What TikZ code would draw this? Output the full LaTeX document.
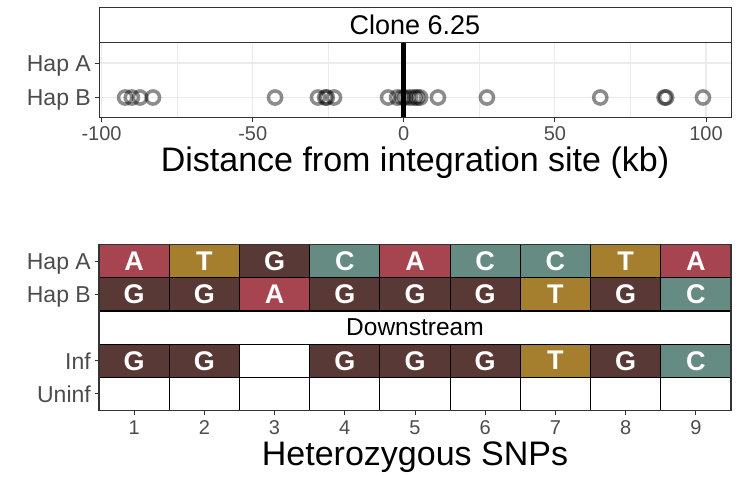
\documentclass[tikz,border=0pt]{standalone}
\usepackage{fontspec}
\setmainfont{Liberation Sans}
\usetikzlibrary{positioning}
\definecolor{snpA}{HTML}{A64450}
\definecolor{snpT}{HTML}{A67F2E}
\definecolor{snpG}{HTML}{593936}
\definecolor{snpC}{HTML}{668B82}
\definecolor{snpX}{HTML}{FFFFFF}
\definecolor{gridgray}{gray}{0.92}
\definecolor{ticktext}{gray}{0.3}
\definecolor{framegray}{gray}{0.2}

\begin{document}
\begin{tikzpicture}[x=1pt,y=-1pt,
	cell/.style={draw=black,line width=1.2pt,minimum width=70.22pt,minimum height=33.2pt,inner sep=0pt,text=white,font=\fontsize{27}{27}\selectfont\bfseries},
	ticklabel/.style={inner sep=0pt,text=ticktext,font=\fontsize{20}{20}\selectfont},
	ylabel/.style={inner sep=0pt,anchor=base east,text=ticktext,font=\fontsize{23}{23}\selectfont},
	axistitle/.style={inner sep=0pt,anchor=base,font=\fontsize{34}{34}\selectfont},
	striptext/.style={inner sep=0pt,font=\fontsize{27}{27}\selectfont},
	tickmark/.style={draw=framegray,line width=1pt},
	snp/.style={draw=black,draw opacity=0.45,line width=3.5pt}]
	\useasboundingbox (0,0) rectangle (741,477);

	% top panel: strip and grid
	\draw[framegray,line width=1pt,fill=white] (99,7.3) rectangle (731,42.7);
	\node[striptext] (strip) at (415,25) {Clone 6.25};
	\foreach \k in {-75,-25,25,75}
		\draw[gridgray,line width=0.6pt] ({403.8+3.022*\k},42.7) -- ({403.8+3.022*\k},117.3);
	\foreach \k in {-100,-50,0,50,100}
		\draw[gridgray,line width=1.1pt] ({403.8+3.022*\k},42.7) -- ({403.8+3.022*\k},117.3);
	\foreach \y in {63,97.5}
		\draw[gridgray,line width=1.1pt] (99,\y) -- (731,\y);

	% SNP positions on Hap B
	\foreach \k in {-92.2,-90,-87.3,-83,-42.6,-28.4,-26,-25.5,-23.1,-5.2,-2.2,-0.5,0.5,2.1,3.5,4.4,5.4,11.3,27.5,65,86.3,86.8,99}
		\draw[snp] ({403.8+3.022*\k},97.5) circle (6.6);
	\draw[black,line width=5pt] (403.8,42.7) -- (403.8,117.3);
	\draw[framegray,line width=1pt] (99,42.7) rectangle (731,117.3);

	% top axes
	\foreach \lab/\y in {Hap A/63,Hap B/97.5} {
		\draw[tickmark] (94.5,\y) -- (99,\y);
		\node[ylabel] at (91,\y+8.3) {\lab};
	}
	\foreach \k in {-100,-50,0,50,100} {
		\draw[tickmark] ({403.8+3.022*\k},117.3) -- ({403.8+3.022*\k},121.8);
		\node[ticklabel,anchor=base] at ({403.8+3.022*\k},140) {\k};
	}
	\node[axistitle] (distance) at (415,171) {Distance from integration site (kb)};

	% bottom panel: haplotypes
	\foreach \b [count=\i] in {A,T,G,C,A,C,C,T,A}
		\node[cell,fill=snp\b] (hapA-\i) at ({99+70.222*(\i-0.5)},261.1) {\b};
	\foreach \b [count=\i] in {G,G,A,G,G,G,T,G,C}
		\node[cell,fill=snp\b] (hapB-\i) at ({99+70.222*(\i-0.5)},294.3) {\b};
	\node[cell,fill=white,text=black,minimum width=632pt,font=\fontsize{24.5}{24.5}\selectfont] (down) at (415,327.5) {Downstream};
	\foreach \b/\t [count=\i] in {G/G,G/G,X/{},G/G,G/G,G/G,T/T,G/G,C/C}
		\node[cell,fill=snp\b] (inf-\i) at ({99+70.222*(\i-0.5)},360.7) {\t};
	\foreach \i in {1,...,9}
		\node[cell,fill=white] (uninf-\i) at ({99+70.222*(\i-0.5)},393.9) {};
	\draw[framegray,line width=1.2pt] (99,244.5) rectangle (731,410.5);

	% bottom axes
	\foreach \lab/\y in {Hap A/261.1,Hap B/294.3,Inf/360.7,Uninf/393.9} {
		\draw[tickmark] (94.5,\y) -- (99,\y);
		\node[ylabel] at (91,\y+8.3) {\lab};
	}
	\foreach \i in {1,...,9} {
		\draw[tickmark] ({99+70.222*(\i-0.5)},410.5) -- ({99+70.222*(\i-0.5)},415);
		\node[ticklabel,anchor=base] at ({99+70.222*(\i-0.5)},434) {\i};
	}
	\node[axistitle] (snps) at (415,465) {Heterozygous SNPs};
\end{tikzpicture}
\end{document}
